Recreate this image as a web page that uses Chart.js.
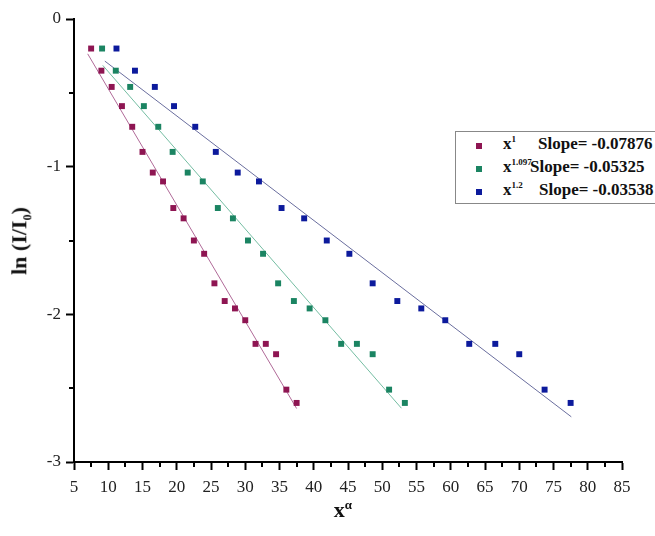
<!DOCTYPE html>
<html>
<head>
<meta charset="utf-8">
<script src="https://cdn.jsdelivr.net/npm/chart.js@4.4.0/dist/chart.umd.min.js"></script>
<style>
  body { margin: 0; background: #fff; }
  #wrap { position: relative; width: 655px; height: 536px; font-family: "Liberation Serif", "Times New Roman", serif; }
  #c { position: absolute; left: 0; top: 0; }
  .ytitle { position: absolute; left: 21px; top: 241px; transform: translate(-50%, -50%) rotate(-90deg); font-weight: bold; font-size: 22px; white-space: nowrap; color: #111; }
  .xtitle { position: absolute; left: 343px; top: 510px; transform: translate(-50%, -50%); font-weight: bold; font-size: 22px; color: #111; }
  .xtitle sup { font-size: 13px; }
  .ytitle sub { font-size: 12px; }
  #legend { position: absolute; left: 455px; top: 131px; width: 210px; height: 73px; border: 1px solid #888; box-sizing: border-box; background: #fff; }
  .row { position: absolute; left: 0; height: 22px; font-weight: bold; font-size: 17px; color: #111; white-space: nowrap; }
  .mk { position: absolute; left: 20px; top: 9px; width: 6px; height: 6px; }
  .xx { position: absolute; left: 47px; top: 0; }
  .xx sup { font-size: 9px; vertical-align: 7px; }
  .sl { position: absolute; top: 0; }
</style>
</head>
<body>
<div id="wrap">
  <canvas id="c" width="655" height="536"></canvas>
  <div class="ytitle">ln (I/I<sub>0</sub>)</div>
  <div class="xtitle">x<sup>&alpha;</sup></div>
  <div id="legend">
    <div class="row" style="top:2px"><span class="mk" style="background:#8e1552"></span><span class="xx">x<sup>1</sup></span><span class="sl" style="left:82px">Slope= -0.07876</span></div>
    <div class="row" style="top:25px"><span class="mk" style="background:#1b8462"></span><span class="xx">x<sup>1.097</sup></span><span class="sl" style="left:74px">Slope= -0.05325</span></div>
    <div class="row" style="top:48px"><span class="mk" style="background:#0c1a9c"></span><span class="xx">x<sup>1.2</sup></span><span class="sl" style="left:83px">Slope= -0.03538</span></div>
  </div>
</div>
<script>
// 1. 資料
const lnValues = [-0.20, -0.35, -0.46, -0.59, -0.73, -0.90, -1.04, -1.10, -1.28, -1.35, -1.50,
                  -1.59, -1.79, -1.91, -1.96, -2.04, -2.20, -2.20, -2.27, -2.51, -2.60];

const xAlpha1 = [7.5, 9.0, 10.5, 12.0, 13.5, 15.0, 16.5, 18.0, 19.5, 21.0, 22.5,
                 24.0, 25.5, 27.0, 28.5, 30.0, 31.5, 33.0, 34.5, 36.0, 37.5];
const xAlpha1097 = [9.1, 11.1, 13.2, 15.2, 17.3, 19.4, 21.6, 23.8, 26.0, 28.2, 30.4,
                    32.6, 34.8, 37.1, 39.4, 41.7, 44.0, 46.3, 48.6, 51.0, 53.3];
const xAlpha12 = [11.2, 13.9, 16.8, 19.6, 22.7, 25.7, 28.9, 32.0, 35.3, 38.6, 41.9,
                  45.2, 48.6, 52.2, 55.7, 59.2, 62.7, 66.5, 70.0, 73.7, 77.5];

// 線性擬合 (起點/終點)
const fit1 = [{ x: 7.0, y: -0.236 }, { x: 37.5, y: -2.638 }];
const fit1097 = [{ x: 9.2, y: -0.314 }, { x: 52.8, y: -2.636 }];
const fit12 = [{ x: 9.5, y: -0.285 }, { x: 77.6, y: -2.694 }];

const seriesColors = ['#8e1552', '#1b8462', '#0c1a9c'];
const lineColors = ['#b06a98', '#74bda2', '#6a6e9e'];

function toPoints(xs) {
    return xs.map((x, i) => ({ x: x, y: lnValues[i] }));
}

// 2. 次刻度
const minorTicks = {
    id: 'minorTicks',
    afterDraw(chart) {
        const ctx = chart.ctx;
        const xs = chart.scales.x, ys = chart.scales.y;
        ctx.save();
        ctx.strokeStyle = '#000';
        ctx.lineWidth = 2;
        xs.ticks.forEach(t => {
            if (t.value % 5 !== 0) {
                const px = Math.round(xs.getPixelForValue(t.value));
                ctx.beginPath();
                ctx.moveTo(px, xs.top);
                ctx.lineTo(px, xs.top + 5);
                ctx.stroke();
            }
        });
        ys.ticks.forEach(t => {
            if (t.value % 1 !== 0) {
                const py = Math.round(ys.getPixelForValue(t.value));
                ctx.beginPath();
                ctx.moveTo(ys.right, py);
                ctx.lineTo(ys.right - 5, py);
                ctx.stroke();
            }
        });
        ctx.restore();
    }
};

const tickFont = { family: "'Liberation Serif', 'Times New Roman', serif", size: 17 };

new Chart(document.getElementById('c'), {
    type: 'scatter',
    data: {
        datasets: [
            { data: toPoints(xAlpha1), backgroundColor: seriesColors[0], pointStyle: 'rect', pointRadius: 4.2, borderWidth: 0 },
            { data: toPoints(xAlpha1097), backgroundColor: seriesColors[1], pointStyle: 'rect', pointRadius: 4.2, borderWidth: 0 },
            { data: toPoints(xAlpha12), backgroundColor: seriesColors[2], pointStyle: 'rect', pointRadius: 4.2, borderWidth: 0 },
            { type: 'line', data: fit1, borderColor: lineColors[0], borderWidth: 1, pointRadius: 0 },
            { type: 'line', data: fit1097, borderColor: lineColors[1], borderWidth: 1, pointRadius: 0 },
            { type: 'line', data: fit12, borderColor: lineColors[2], borderWidth: 1, pointRadius: 0 }
        ]
    },
    options: {
        responsive: false,
        animation: false,
        layout: { padding: { top: 19, right: 33, left: 0, bottom: 0 } },
        plugins: { legend: { display: false }, tooltip: { enabled: false } },
        scales: {
            x: {
                type: 'linear', min: 5, max: 85,
                border: { color: '#000', width: 2 },
                grid: {
                    drawOnChartArea: false, tickLength: 8, tickWidth: 2,
                    tickColor: c => (c.tick && c.tick.value % 5 === 0) ? '#000' : 'rgba(0,0,0,0)'
                },
                ticks: {
                    stepSize: 2.5, autoSkip: false, maxRotation: 0, color: '#222', font: tickFont, padding: 7,
                    callback: v => (v % 5 === 0 ? v : '')
                },
                afterFit: s => { s.height = 74; }
            },
            y: {
                type: 'linear', min: -3, max: 0,
                border: { color: '#000', width: 2 },
                grid: {
                    drawOnChartArea: false, tickLength: 8, tickWidth: 2,
                    tickColor: c => (c.tick && c.tick.value % 1 === 0) ? '#000' : 'rgba(0,0,0,0)'
                },
                ticks: {
                    stepSize: 0.5, autoSkip: false, color: '#222', font: tickFont, padding: 5,
                    callback: v => (v % 1 === 0 ? v : '')
                },
                afterFit: s => { s.width = 74; }
            }
        }
    },
    plugins: [minorTicks]
});
</script>
</body>
</html>
